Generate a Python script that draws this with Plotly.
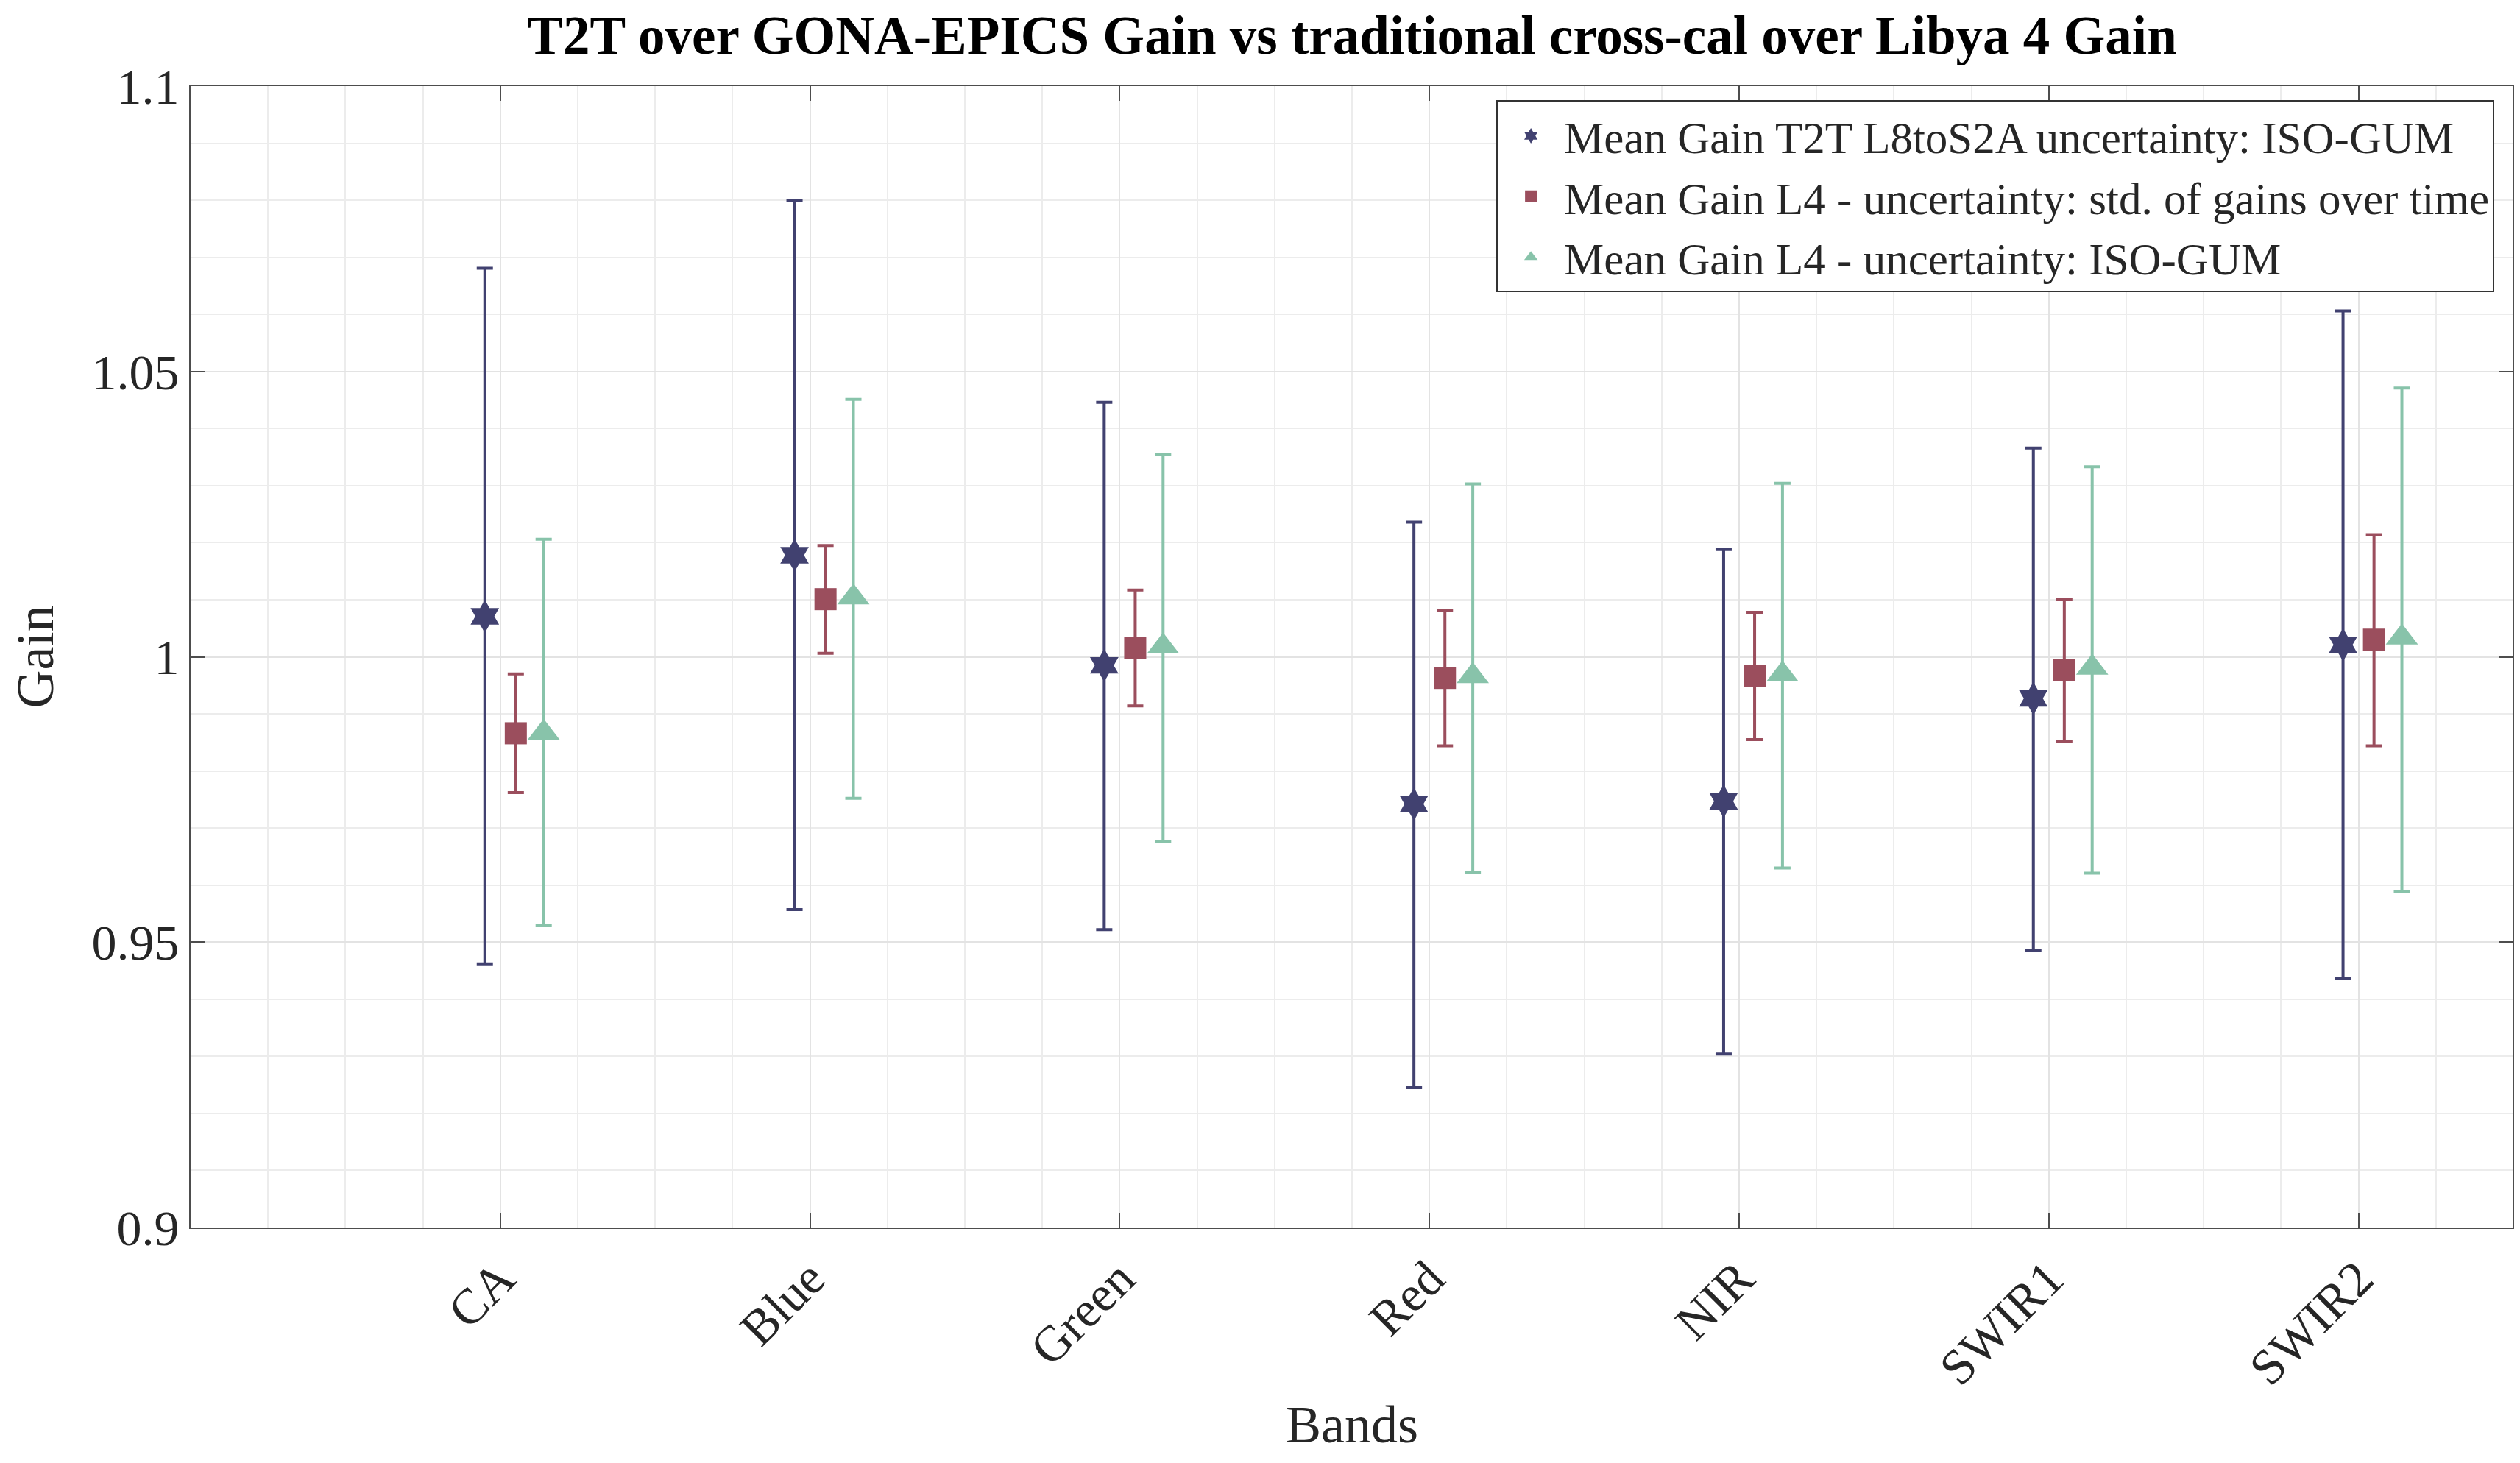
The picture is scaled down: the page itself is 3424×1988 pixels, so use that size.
import plotly.graph_objects as go

# Bandas e valores
bandas = ['CA', 'Blue', 'Green', 'Red', 'NIR', 'SWIR1', 'SWIR2']
posicoes = [1, 2, 3, 4, 5, 6, 7]

# Mean Gain T2T L8toS2A (ISO-GUM)
t2t_media = [1.0071, 1.0178, 0.9985, 0.9742, 0.9747, 0.9927, 1.0021]
t2t_sup = [1.0681, 1.0800, 1.0446, 1.0236, 1.0188, 1.0366, 1.0606]
t2t_inf = [0.9462, 0.9557, 0.9522, 0.9245, 0.9304, 0.9486, 0.9436]

# Mean Gain L4 - std. dos ganhos no tempo
std_media = [0.9866, 1.0101, 1.0016, 0.9963, 0.9967, 0.9977, 1.0030]
std_sup = [0.9970, 1.0195, 1.0117, 1.0081, 1.0078, 1.0101, 1.0214]
std_inf = [0.9762, 1.0006, 0.9914, 0.9844, 0.9855, 0.9851, 0.9844]

# Mean Gain L4 - ISO-GUM
iso_media = [0.9867, 1.0104, 1.0018, 0.9966, 0.9969, 0.9981, 1.0034]
iso_sup = [1.0206, 1.0451, 1.0355, 1.0303, 1.0304, 1.0333, 1.0471]
iso_inf = [0.9529, 0.9752, 0.9676, 0.9622, 0.9630, 0.9621, 0.9588]

y_ticks = [0.9, 0.95, 1.0, 1.05, 1.1]
y_ticktext = ['0.9', '0.95', '1', '1.05', '1.1']

CORES = {'t2t': '#414170', 'std': '#9b4e5d', 'iso': '#88c3aa'}
FONTE = 'Liberation Serif'

series = [
    ('Mean Gain T2T L8toS2A uncertainty: ISO-GUM', t2t_media, t2t_sup, t2t_inf, -0.05, 'hexagram', 34, CORES['t2t']),
    ('Mean Gain L4 - uncertainty: std. of gains over time', std_media, std_sup, std_inf, 0.05, 'square', 30, CORES['std']),
    ('Mean Gain L4 - uncertainty: ISO-GUM', iso_media, iso_sup, iso_inf, 0.14, 'triangle-up', 38, CORES['iso']),
]

fig = go.Figure()
for nome, media, sup, inf, desloc, simbolo, tam, cor in series:
    fig.add_trace(go.Scatter(
        x=[p + desloc for p in posicoes], y=media,
        name=nome, mode='markers',
        marker=dict(symbol=simbolo, size=tam, color=cor),
        error_y=dict(
            type='data', symmetric=False,
            array=[s - m for s, m in zip(sup, media)],
            arrayminus=[m - i for m, i in zip(media, inf)],
            color=cor, thickness=4, width=11
        )
    ))

eixo = dict(
    showline=True, linecolor='#4d4d4d', linewidth=2, mirror='ticks',
    ticks='inside', ticklen=20, tickcolor='#4d4d4d', tickwidth=2,
    showgrid=True, gridcolor='#e3e3e3', gridwidth=2,
    zeroline=False,
    tickfont=dict(family=FONTE, size=68, color='#262626'),
)

fig.update_xaxes(
    **eixo,
    range=[0, 7.5], tickvals=posicoes, ticktext=bandas, tickangle=-45,
    minor=dict(dtick=0.25, showgrid=True, gridcolor='#ececec', gridwidth=2, ticks=''),
    title=dict(text='Bands', font=dict(family=FONTE, size=72, color='#262626'), standoff=14),
)
fig.update_yaxes(
    **eixo,
    range=[0.9, 1.1], tickvals=y_ticks, ticktext=y_ticktext,
    minor=dict(dtick=0.01, showgrid=True, gridcolor='#ececec', gridwidth=2, ticks=''),
    title=dict(text='Gain', font=dict(family=FONTE, size=72, color='#262626'), standoff=30),
)

fig.update_layout(
    title=dict(
        text='<b>T2T over GONA-EPICS Gain vs traditional cross-cal over Libya 4 Gain</b>',
        font=dict(family=FONTE, size=73, color='black'),
        x=0.5, xref='paper', xanchor='center', y=0.98, yanchor='middle'
    ),
    width=3424, height=1988,
    margin=dict(l=251, r=17, t=109, b=328),
    plot_bgcolor='white', paper_bgcolor='white',
    showlegend=True,
    legend=dict(
        x=0.9918, y=0.9875, xanchor='right', yanchor='top',
        bgcolor='white', bordercolor='#333333', borderwidth=2,
        font=dict(family=FONTE, size=61, color='#262626'),
        itemwidth=80, tracegroupgap=0,
    ),
)

fig.write_html('out.html')
